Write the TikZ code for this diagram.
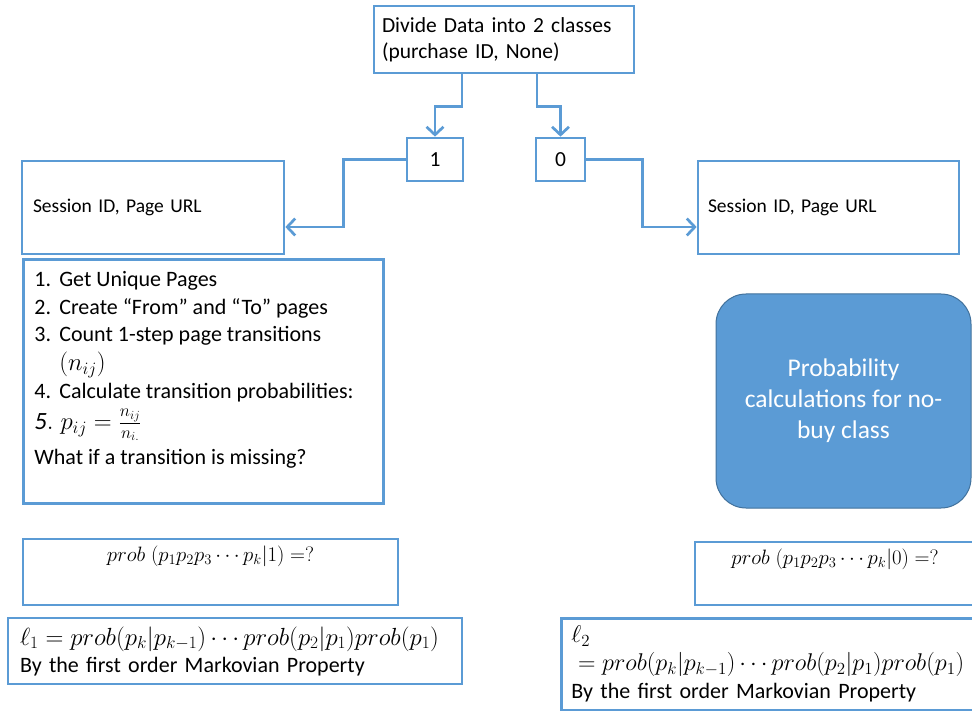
\RequirePackage{fix-cm}
\documentclass[tikz,border=0pt]{standalone}
\usepackage{amsmath,amssymb}
\usepackage{fontspec}
\setmainfont{Carlito}
\usetikzlibrary{arrows.meta}
\definecolor{mkblue}{HTML}{5B9BD5}
\definecolor{mkdark}{HTML}{41719C}
\newcommand{\bigmath}[2][24.8pt]{{\fontsize{#1}{28pt}\selectfont$#2$}}

\begin{document}
\begin{tikzpicture}[x=1pt, y=-1pt, line width=2.7pt,
		bx/.style={draw=mkblue, rectangle, inner ysep=0pt, align=left, font=\fontsize{21.5pt}{26pt}\selectfont},
		probbx/.style={bx, align=center, inner ysep=7pt, text height=15pt, font=\fontsize{20.8pt}{24pt}\selectfont},
		arr/.style={draw=mkblue, -{Straight Barb[length=8pt,width=17pt]}}]
		\useasboundingbox (0,0) rectangle (972,711);
		\clip (0,0) rectangle (972,711);
		% top of the tree
		\node[bx, inner xsep=8pt, text width=244pt, minimum height=67pt] (divide) at (504,39.5) {Divide Data into 2 classes\\(purchase ID, None)};
		\node[bx, align=center, minimum width=56pt, minimum height=43pt] (one) at (435,159.5) {1};
		\node[bx, align=center, minimum width=49pt, minimum height=43pt] (zero) at (560.5,159.5) {0};
		\node[bx, inner xsep=11pt, text width=240pt, minimum height=93pt, font=\fontsize{19.5pt}{24pt}\selectfont] (sess1) at (153,207.5) {Session ID, Page URL\vphantom{g}};
		\node[bx, inner xsep=10pt, text width=241pt, minimum height=93pt, font=\fontsize{19.5pt}{24pt}\selectfont] (sess0) at (828.5,207.5) {Session ID, Page URL\vphantom{g}};
		% buy class
		\node[bx, anchor=north west, inner sep=0pt] (steps) at (22,258) {\parbox[t][244pt][t]{360pt}{\fontsize{22pt}{28pt}\selectfont\raggedright\leftskip=11pt\baselineskip=28pt
				\vspace*{12pt}\makebox[25pt][l]{1.}Get Unique Pages\\
				\makebox[25pt][l]{2.}Create “From” and “To” pages\\[-1pt]
				\makebox[25pt][l]{3.}Count 1-step page transitions\\[1pt]
				\hspace*{25pt}\bigmath{(n_{ij})}\\
				\makebox[25pt][l]{4.}Calculate transition probabilities:\\[3pt]
				\bigmath{\mathit{5.}\;p_{ij}=\frac{n_{ij}}{n_{i.}}}\\[7pt]
				What if a transition is missing?}};
		\node[probbx, minimum width=375pt, text depth=37pt] (prob1) at (210.5,572) {$prob\;(p_1p_2p_3\cdots p_k|1)=?$};
		\node[bx, inner xsep=12pt, text width=430pt, minimum height=66pt, font=\fontsize{22pt}{27pt}\selectfont] (ell1) at (235,651) {\bigmath{\ell_1=prob(p_k|p_{k-1})\cdots prob(p_2|p_1)prob(p_1)}\\By the first order Markovian Property};
		% no-buy class
		\node[draw=mkdark, fill=mkblue, line width=1pt, rounded corners=30pt, minimum width=255pt, minimum height=214pt, text=white, align=center, font=\fontsize{25.5pt}{31pt}\selectfont] (nobuy) at (843.5,401) {Probability\\calculations for no-\\buy class};
		\node[probbx, minimum width=280pt, text depth=34pt] (prob0) at (835,573.5) {$prob\;(p_1p_2p_3\cdots p_k|0)=?$};
		\node[bx, anchor=north west, inner xsep=10pt, text width=403pt, minimum height=92pt, font=\fontsize{22pt}{28pt}\selectfont] (ell2) at (560,617) {\bigmath[24.2pt]{\ell_2}\\\bigmath[24.2pt]{{}=prob(p_k|p_{k-1})\cdots prob(p_2|p_1)prob(p_1)}\\By the first order Markovian Property};
		% connectors
		\draw[arr] ([xshift=-42pt]divide.south) -- ++(0,32) -| (one.north);
		\draw[arr] ([xshift=33pt]divide.south) -- ++(0,32) -| (zero.north);
		\draw[arr] (one.west) -- ++(-62,0) |- ([yshift=-19.5pt]sess1.east);
		\draw[arr] (zero.east) -- ++(56,0) |- ([yshift=-19.5pt]sess0.west);
	\end{tikzpicture}
\end{document}
